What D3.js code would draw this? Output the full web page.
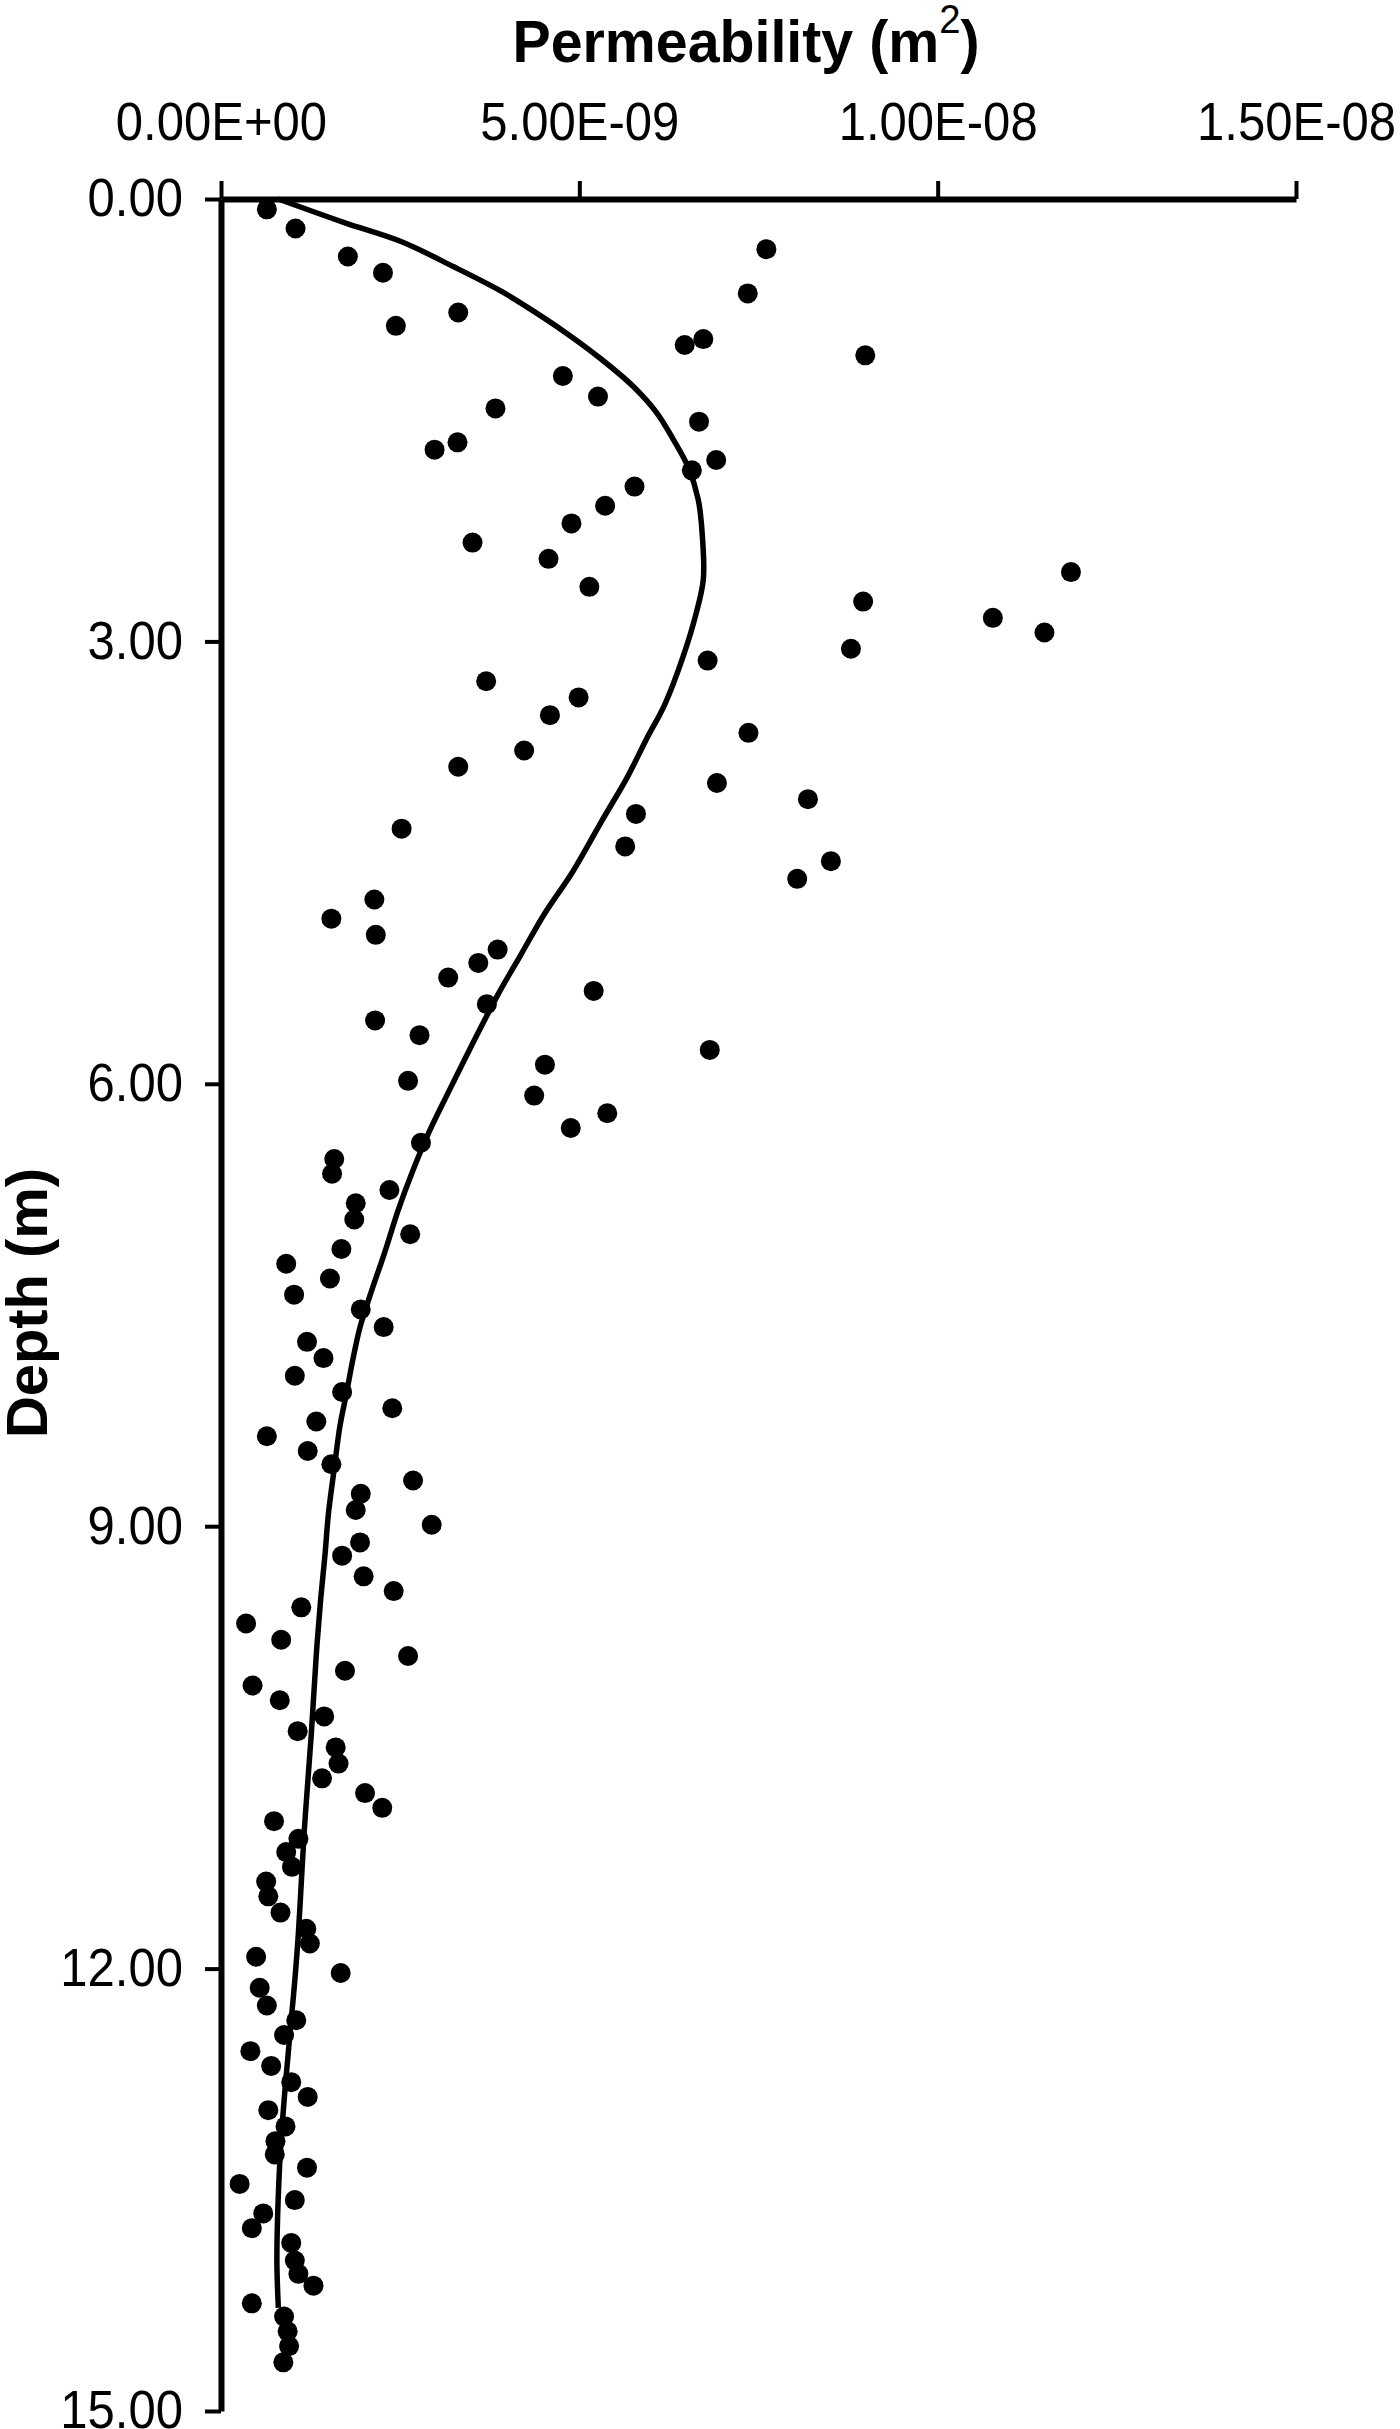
<!DOCTYPE html>
<html>
<head>
<meta charset="utf-8">
<script src="https://cdn.jsdelivr.net/npm/d3@7"></script>
<style>
  html, body { margin: 0; padding: 0; background: #fff; }
  text { font-family: "Liberation Sans", Arial, sans-serif; fill: #000; }
</style>
</head>
<body>
<div id="chart"></div>
<script>
// permeability values are in units of 1e-9 m2, depth in m
const sampleDepth = [
  0.07, 0.20, 0.34, 0.39, 0.50, 0.64, 0.77, 0.86, 0.95, 0.99, 1.06, 1.20, 1.34, 1.42, 1.51,
  1.65, 1.70, 1.77, 1.84, 1.95, 2.08, 2.20, 2.33, 2.44, 2.53, 2.63, 2.73, 2.84, 2.94, 3.05,
  3.13, 3.27, 3.38, 3.50, 3.62, 3.74, 3.85, 3.96, 4.07, 4.17, 4.27, 4.39, 4.49, 4.61, 4.75,
  4.88, 4.99, 5.09, 5.18, 5.28, 5.37, 5.46, 5.57, 5.67, 5.77, 5.87, 5.98, 6.08, 6.20, 6.30,
  6.40, 6.51, 6.61, 6.72, 6.81, 6.92, 7.02, 7.12, 7.22, 7.32, 7.43, 7.53, 7.65, 7.75, 7.86,
  7.98, 8.09, 8.20, 8.29, 8.39, 8.49, 8.58, 8.69, 8.78, 8.89, 8.99, 9.11, 9.20, 9.34, 9.44,
  9.55, 9.66, 9.77, 9.88, 9.98, 10.08, 10.18, 10.29, 10.39, 10.50, 10.61, 10.71, 10.81, 10.91, 11.00,
  11.12, 11.21, 11.31, 11.41, 11.51, 11.62, 11.73, 11.83, 11.92, 12.03, 12.13, 12.25, 12.35, 12.45, 12.56,
  12.66, 12.77, 12.87, 12.96, 13.07, 13.17, 13.26, 13.35, 13.46, 13.57, 13.66, 13.76, 13.86, 13.98, 14.07,
  14.15, 14.27, 14.36, 14.46, 14.56, 14.67
];
const samplePerm = [
  0.64, 1.04, 7.61, 1.77, 2.26, 7.35, 3.31, 2.44, 6.73, 6.47, 8.99, 4.77, 5.26, 3.83, 6.67,
  3.30, 2.98, 6.91, 6.57, 5.77, 5.36, 4.89, 3.51, 4.57, 11.86, 5.14, 8.96, 10.77, 11.49, 8.79,
  6.79, 3.70, 4.99, 4.59, 7.36, 4.23, 3.31, 6.92, 8.19, 5.79, 2.52, 5.64, 8.51, 8.04, 2.14,
  1.54, 2.16, 3.86, 3.59, 3.17, 5.20, 3.71, 2.15, 2.77, 6.82, 4.52, 2.61, 4.37, 5.39, 4.88,
  2.79, 1.58, 1.55, 2.35, 1.88, 1.86, 2.64, 1.68, 0.91, 1.52, 1.02, 1.95, 2.27, 1.20, 1.43,
  1.03, 1.69, 2.39, 1.33, 0.64, 1.21, 1.54, 2.68, 1.95, 1.88, 2.94, 1.94, 1.69, 1.99, 2.41,
  1.12, 0.35, 0.84, 2.61, 1.73, 0.44, 0.82, 1.44, 1.07, 1.60, 1.64, 1.41, 2.01, 2.25, 0.74,
  1.08, 0.91, 0.99, 0.63, 0.66, 0.83, 1.19, 1.24, 0.49, 1.67, 0.54, 0.64, 1.05, 0.88, 0.41,
  0.70, 0.98, 1.21, 0.66, 0.90, 0.76, 0.75, 1.20, 0.26, 1.03, 0.59, 0.43, 0.98, 1.03, 1.08,
  1.29, 0.43, 0.88, 0.93, 0.95, 0.87
];

// fitted trend line
const fitDepth = [
  0.00, 0.16, 0.29, 0.46, 0.62, 0.76, 0.91, 1.08, 1.27, 1.45, 1.63, 1.82, 2.04, 2.31, 2.58,
  2.81, 3.10, 3.43, 3.65, 3.92, 4.22, 4.56, 4.85, 5.12, 5.39, 5.69, 6.07, 6.32, 6.61, 6.86,
  7.15, 7.42, 7.65, 7.87, 8.10, 8.32, 8.61, 8.91, 9.20, 9.50, 9.80, 10.10, 10.41, 10.74, 11.08,
  11.42, 11.76, 12.08, 12.40, 12.78, 13.23, 13.68, 14.00, 14.30
];
const fitPerm = [
  0.80, 1.72, 2.52, 3.25, 3.89, 4.36, 4.82, 5.29, 5.75, 6.08, 6.31, 6.52, 6.66, 6.72, 6.73,
  6.63, 6.45, 6.19, 5.95, 5.67, 5.31, 4.91, 4.51, 4.19, 3.87, 3.55, 3.16, 2.91, 2.66, 2.47,
  2.28, 2.09, 1.94, 1.84, 1.75, 1.66, 1.58, 1.50, 1.45, 1.39, 1.34, 1.30, 1.26, 1.21, 1.16,
  1.12, 1.08, 1.03, 0.97, 0.90, 0.83, 0.79, 0.78, 0.80
];

const xTickValues = [0, 5e-9, 1e-8, 1.5e-8];
const xTickLabels = ["0.00E+00", "5.00E-09", "1.00E-08", "1.50E-08"];
const yTickValues = [0, 3, 6, 9, 12, 15];
const yTickLabels = ["0.00", "3.00", "6.00", "9.00", "12.00", "15.00"];

const W = 1400, H = 2429;
const svg = d3.select("#chart").append("svg").attr("width", W).attr("height", H);
svg.append("rect").attr("width", W).attr("height", H).attr("fill", "#fff");

const x = d3.scaleLinear().domain([0, 1.5e-8]).range([221, 1296]);
const y = d3.scaleLinear().domain([0, 15]).range([199, 2411]);

// squeeze text horizontally, the scanned lettering is a bit narrow
function squeeze(sel, k) {
  sel.each(function() {
    const w = this.getComputedTextLength();
    d3.select(this).attr("textLength", w * k).attr("lengthAdjust", "spacingAndGlyphs");
  });
}

// axes
const xAxis = svg.append("g").attr("transform", `translate(0,${y(0)})`)
  .call(d3.axisTop(x).tickValues(xTickValues).tickSizeInner(18).tickSizeOuter(0).tickPadding(41)
    .tickFormat((d, i) => xTickLabels[i]));
const yAxis = svg.append("g").attr("transform", `translate(${x(0)},0)`)
  .call(d3.axisLeft(y).tickValues(yTickValues).tickSizeInner(16).tickSizeOuter(0).tickPadding(22)
    .tickFormat((d, i) => yTickLabels[i]));

[xAxis, yAxis].forEach(g => {
  g.attr("font-family", null).attr("font-size", null);
  g.select(".domain").attr("stroke", "#000").attr("stroke-width", 6);
  g.selectAll(".tick line").attr("stroke", "#000").attr("stroke-width", 4);
  g.selectAll(".tick text").style("font-size", "53px");
});
xAxis.selectAll(".tick text").attr("dy", "0");
squeeze(xAxis.selectAll(".tick text"), 0.925);
squeeze(yAxis.selectAll(".tick text"), 0.925);

// trend line
const fit = fitDepth.map((d, i) => ({ depth: d, perm: fitPerm[i] * 1e-9 }));
svg.append("path").datum(fit)
  .attr("fill", "none").attr("stroke", "#000").attr("stroke-width", 5.5)
  .attr("d", d3.line().x(d => x(d.perm)).y(d => y(d.depth)).curve(d3.curveCatmullRom.alpha(0.5)));

// samples
const samples = sampleDepth.map((d, i) => ({ depth: d, perm: samplePerm[i] * 1e-9 }));
svg.append("g").selectAll("circle").data(samples).enter().append("circle")
  .attr("cx", d => x(d.perm)).attr("cy", d => y(d.depth)).attr("r", 10).attr("fill", "#000");

// titles
const xTitle = svg.append("text").attr("x", 746).attr("y", 62).attr("text-anchor", "middle")
  .style("font-size", "60px").style("font-weight", "bold");
xTitle.append("tspan").text("Permeability (m");
xTitle.append("tspan").attr("dy", -29).style("font-size", "40px").style("font-weight", "normal").text("2");
xTitle.append("tspan").attr("dy", 29).text(")");
xTitle.attr("textLength", 467).attr("lengthAdjust", "spacingAndGlyphs");

svg.append("text").attr("transform", "translate(47,1303) rotate(-90)").attr("text-anchor", "middle")
  .style("font-size", "58px").style("font-weight", "bold")
  .attr("textLength", 270).attr("lengthAdjust", "spacingAndGlyphs")
  .text("Depth (m)");
</script>
</body>
</html>
